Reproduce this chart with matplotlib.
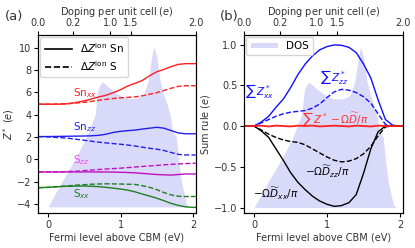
import numpy as np
import matplotlib
matplotlib.use('Agg')
import matplotlib.pyplot as plt

# Fermi level grid (eV) shared by all curves
energy = [-0.134, 0.0, 0.1, 0.2, 0.3, 0.4, 0.5, 0.6, 0.7, 0.8, 0.9, 1.0,
          1.1, 1.2, 1.3, 1.4, 1.5, 1.6, 1.7, 1.8, 1.9, 2.0, 2.037]

# panel (a): Born effective charges
sn_xx_sn = [4.95, 4.95, 4.95, 4.96, 5.0, 5.12, 5.25, 5.42, 5.6, 5.75, 5.98, 6.25,
            6.58, 6.82, 7.07, 7.5, 7.85, 8.07, 8.32, 8.52, 8.58, 8.58, 8.58]
sn_xx_s = [4.95, 4.95, 4.96, 4.98, 5.02, 5.06, 5.12, 5.2, 5.3, 5.38, 5.46, 5.52,
           5.56, 5.6, 5.7, 5.84, 5.98, 6.18, 6.38, 6.55, 6.6, 6.6, 6.6]
sn_zz_sn = [2.05, 2.05, 2.06, 2.07, 2.08, 2.09, 2.1, 2.12, 2.16, 2.26, 2.42, 2.52,
            2.58, 2.63, 2.72, 2.8, 2.88, 2.8, 2.58, 2.37, 2.3, 2.3, 2.3]
sn_zz_s = [2.05, 2.02, 1.98, 1.94, 1.88, 1.8, 1.72, 1.63, 1.55, 1.48, 1.42, 1.36,
           1.29, 1.2, 1.1, 1.0, 0.92, 0.8, 0.62, 0.45, 0.4, 0.4, 0.4]
s_zz_sn = [-1.12, -1.12, -1.12, -1.12, -1.12, -1.12, -1.12, -1.12, -1.12, -1.12, -1.13, -1.15,
           -1.17, -1.2, -1.25, -1.3, -1.35, -1.38, -1.4, -1.35, -1.3, -1.3, -1.3]
s_zz_s = [-1.12, -1.12, -1.11, -1.1, -1.08, -1.05, -1.0, -0.95, -0.9, -0.86, -0.82, -0.78,
          -0.73, -0.68, -0.63, -0.58, -0.54, -0.48, -0.44, -0.4, -0.37, -0.34, -0.34]
s_xx_sn = [-2.53, -2.5, -2.46, -2.42, -2.4, -2.38, -2.38, -2.4, -2.44, -2.5, -2.57, -2.65,
           -2.75, -2.9, -3.1, -3.28, -3.47, -3.7, -3.94, -4.12, -4.25, -4.29, -4.29]
s_xx_s = [-2.53, -2.5, -2.45, -2.4, -2.35, -2.3, -2.26, -2.22, -2.2, -2.18, -2.19, -2.2,
          -2.22, -2.24, -2.35, -2.5, -2.7, -2.97, -3.18, -3.3, -3.32, -3.32, -3.32]

# panel (b): sum rules
sum_zxx = [0.0, 0.0, 0.05, 0.12, 0.23, 0.33, 0.47, 0.63, 0.76, 0.86, 0.935, 0.975,
           0.995, 0.99, 0.965, 0.9, 0.76, 0.59, 0.32, 0.08, 0.01, 0.0, 0.0]
sum_zzz = [0.0, 0.0, 0.04, 0.08, 0.12, 0.15, 0.17, 0.18, 0.19, 0.22, 0.27, 0.35,
           0.42, 0.45, 0.44, 0.41, 0.36, 0.28, 0.15, 0.02, 0.0, 0.0, 0.0]
drude_xx = [0.0, 0.0, -0.06, -0.14, -0.28, -0.42, -0.57, -0.69, -0.78, -0.86, -0.92, -0.96,
            -0.985, -0.975, -0.94, -0.84, -0.58, -0.28, -0.07, 0.0, 0.0, 0.0, 0.0]
drude_zz = [0.0, 0.0, -0.05, -0.1, -0.14, -0.17, -0.19, -0.2, -0.23, -0.28, -0.33, -0.38,
            -0.42, -0.44, -0.43, -0.4, -0.34, -0.25, -0.12, -0.01, 0.0, 0.0, 0.0]
sum_total = [0.0, 0.0, 0.005, -0.005, 0.005, 0.0, -0.005, 0.005, 0.0, 0.005, -0.005, 0.0,
             0.005, 0.0, -0.005, 0.005, 0.0, -0.005, 0.005, 0.0, 0.0, 0.0, 0.0]

# density of states (normalised 0..1)
dos_e = [-0.134, 0.0, 0.19, 0.37, 0.53, 0.65, 0.69, 0.73, 0.755, 0.855, 0.947, 1.085,
         1.22, 1.315, 1.384, 1.43, 1.46, 1.50, 1.545, 1.59, 1.64, 1.68, 1.72, 1.77,
         1.80, 1.84, 1.91, 1.95, 2.037]
dos = [0.0, 0.0, 0.157, 0.296, 0.436, 0.575, 0.735, 0.77, 0.78, 0.74, 0.708, 0.677,
       0.677, 0.697, 0.79, 0.937, 1.0, 0.937, 0.79, 0.707, 0.645, 0.582, 0.47, 0.436,
       0.296, 0.157, 0.017, 0.0, 0.0]

# top axis: doping per unit cell
dop_pos = [-0.134, 0.35, 0.86, 1.14, 2.037]
dop_lab = ['0.0', '0.2', '1.0', '1.5', '2.0']

plt.rcParams['font.size'] = 7
plt.rcParams['mathtext.fontset'] = 'dejavusans'
plt.rcParams['axes.labelcolor'] = '#333333'
plt.rcParams['xtick.labelcolor'] = '#333333'
plt.rcParams['ytick.labelcolor'] = '#333333'

fig = plt.figure(figsize=(4.15, 2.48), dpi=100)
ax1 = fig.add_axes([0.0923, 0.141, 0.3793, 0.718])
ax2 = fig.add_axes([0.5887, 0.141, 0.3817, 0.718])

x = np.array(energy)
xd = np.array(dos_e)
dos = np.array(dos)
xlim = (-0.134, 2.037)
shade = (0.85, 0.85, 0.98)

# ---- (a)
base, top = -4.25, 10.1
ax1.fill_between(xd, base, base + dos * (top - base), color=shade, lw=0)
ax1.plot(x, sn_xx_sn, '-', color='#ff2020', lw=1)
ax1.plot(x, sn_xx_s, '--', color='#ff2020', lw=1)
ax1.plot(x, sn_zz_sn, '-', color='#2020ee', lw=1)
ax1.plot(x, sn_zz_s, '--', color='#2020ee', lw=1)
ax1.plot(x, s_zz_sn, '-', color='#c010c0', lw=1)
ax1.plot(x, s_zz_s, '--', color='#c010c0', lw=1)
ax1.plot(x, s_xx_sn, '-', color='#1f7f1f', lw=1)
ax1.plot(x, s_xx_s, '--', color='#1f7f1f', lw=1)
ax1.plot([], [], 'k-', lw=1.2, label=r'$\Delta Z^{\rm ion}$ Sn')
ax1.plot([], [], 'k--', lw=1.2, label=r'$\Delta Z^{\rm ion}$ S')
ax1.text(0.35, 5.95, r'Sn$_{xx}$', color='#ff2020', fontsize=7.5, va='center')
ax1.text(0.35, 2.9, r'Sn$_{zz}$', color='#2020ee', fontsize=7.5, va='center')
ax1.text(0.35, -0.1, r'S$_{zz}$', color='#ff40ff', fontsize=7.5, va='center')
ax1.text(0.35, -3.1, r'S$_{xx}$', color='#1f7f1f', fontsize=7.5, va='center')
ax1.set_xlim(xlim)
ax1.set_ylim(-4.8, 11.15)
ax1.set_yticks([-4, -2, 0, 2, 4, 6, 8, 10])
ax1.set_xticks([0, 1, 2])
ax1.set_xlabel('Fermi level above CBM (eV)', labelpad=2)
ax1.set_ylabel(r'$Z^*$ ($e$)', labelpad=1)
ax1.legend(loc='upper left', fontsize=7.5, handlelength=2.6, borderpad=0.4,
           labelspacing=0.4, borderaxespad=0.2)

# ---- (b)
base, top = -1.0, 0.97
ax2.fill_between(xd, base, base + dos * (top - base), color=shade, lw=0, label='DOS')
ax2.plot(x, sum_zxx, '-', color='#1010ff', lw=1)
ax2.plot(x, sum_zzz, '--', color='#1010ff', lw=1)
ax2.plot(x, drude_xx, '-', color='k', lw=1)
ax2.plot(x, drude_zz, '--', color='k', lw=1)
ax2.plot(x, sum_total, '-', color='#ff2020', lw=1.3)
ax2.text(-0.12, 0.43, r'$\sum\, Z^*_{xx}$', color='#1010ff', fontsize=7.5, va='center')
ax2.text(1.1, 0.6, r'$\sum\, Z^*_{zz}$', color='#1010ff', fontsize=7.5, va='center', ha='center')
ax2.text(1.12, 0.09, r'$\sum\, Z^* - \Omega\widetilde{D}/\pi$', color='#ff3030',
         fontsize=7.5, va='center', ha='center')
ax2.text(1.0, -0.56, r'$-\Omega\widetilde{D}_{zz}/\pi$', color='k', fontsize=7.5,
         va='center', ha='center')
ax2.text(0.3, -0.83, r'$-\Omega\widetilde{D}_{xx}/\pi$', color='k', fontsize=7.5,
         va='center', ha='center')
ax2.set_xlim(xlim)
ax2.set_ylim(-1.067, 1.117)
ax2.set_yticks([-1.0, -0.5, 0.0, 0.5, 1.0])
ax2.set_xticks([0, 1, 2])
ax2.set_xlabel('Fermi level above CBM (eV)', labelpad=2)
ax2.set_ylabel(r'Sum rule ($e$)', labelpad=1)
ax2.legend(loc='upper left', fontsize=7.5, handlelength=2.6, handleheight=0.5,
           borderpad=0.4, borderaxespad=0.2)

for ax in (ax1, ax2):
    ax.tick_params(length=3, pad=2)
    tw = ax.twiny()
    tw.set_xlim(xlim)
    tw.set_xticks(dop_pos)
    tw.set_xticklabels(dop_lab)
    tw.tick_params(length=3, pad=2)
    tw.set_xlabel(r'Doping per unit cell ($e$)', labelpad=2)

fig.text(0.012, 0.92, '(a)', fontsize=9.5, color='#333333')
fig.text(0.53, 0.92, '(b)', fontsize=9.5, color='#333333')

fig.savefig('out.png', dpi=100)
